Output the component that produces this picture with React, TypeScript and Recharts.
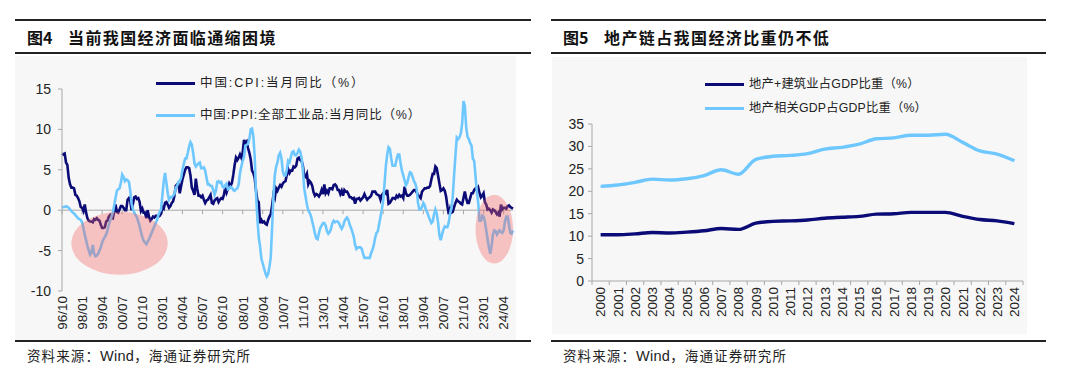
import { LineChart, Line, XAxis, YAxis, ReferenceLine, ReferenceArea } from "recharts";

const FONT = '"Liberation Sans", Arial, "Noto Sans CJK SC", sans-serif';
const CJK = '"Noto Sans CJK SC", "Liberation Sans", sans-serif';

const NAVY = "#0b0b78";
const SKY = "#6ec8ff";
const AXIS = "#a8a8a8";
const PANEL = "#f7f7f7";

// 图4: monthly yoy, 1996/10 - 2024/11
const cpi = [
  7.0, 6.9, 7.0,
  5.9, 5.6, 4.0, 3.2, 2.8, 2.8, 2.7, 1.9, 1.8, 1.5, 1.1, 0.4,
  0.3, -0.1, 0.7, -0.3, -1.0, -1.3, -1.4, -1.4, -1.5, -1.1, -1.2, -1.0,
  -1.2, -1.3, -1.8, -2.2, -2.2, -2.1, -1.4, -1.3, -0.8, -0.6, -0.9, -1.0,
  -0.2, 0.7, -0.2, -0.3, 0.1, 0.5, 0.5, 0.3, 0.0, 0.0, 1.3, 1.5,
  1.2, 0.0, 0.8, 1.6, 1.7, 1.4, 1.5, 1.0, -0.1, 0.2, -0.3, -0.3,
  -1.0, 0.0, -0.8, -1.3, -1.1, -0.8, -0.9, -0.7, -0.7, -0.8, -0.7, -0.4,
  0.4, 0.2, 0.9, 1.0, 0.7, 0.3, 0.5, 0.9, 1.1, 1.8, 3.0, 3.2,
  3.2, 2.1, 3.0, 3.8, 4.4, 5.0, 5.3, 5.3, 5.2, 4.3, 2.8, 2.4,
  1.9, 3.9, 2.7, 1.8, 1.8, 1.6, 1.8, 1.3, 0.9, 1.2, 1.3, 1.6,
  1.9, 0.9, 0.8, 1.2, 1.4, 1.5, 1.0, 1.3, 1.5, 1.4, 1.9, 2.8,
  2.2, 2.7, 3.3, 3.0, 3.4, 4.4, 5.6, 6.5, 6.2, 6.5, 6.9, 6.5,
  7.1, 8.7, 8.3, 8.5, 7.7, 7.1, 6.3, 4.9, 4.6, 4.0, 2.4, 1.2,
  1.0, -1.6, -1.2, -1.5, -1.4, -1.7, -1.8, -1.2, -0.8, -0.5, 0.6, 1.9,
  1.5, 2.7, 2.4, 2.8, 3.1, 2.9, 3.3, 3.5, 3.6, 4.4, 5.1, 4.6,
  4.9, 4.9, 5.4, 5.3, 5.5, 6.4, 6.5, 6.2, 6.1, 5.5, 4.2, 4.1,
  4.5, 3.2, 3.6, 3.4, 3.0, 2.2, 1.8, 2.0, 1.9, 1.7, 2.0, 2.5,
  2.0, 3.2, 2.1, 2.4, 2.1, 2.7, 2.7, 2.6, 3.1, 3.2, 3.0, 2.5,
  2.5, 2.0, 2.4, 1.8, 2.5, 2.3, 2.3, 2.0, 1.6, 1.6, 1.4, 1.5,
  0.8, 1.4, 1.4, 1.5, 1.2, 1.4, 1.6, 2.0, 1.6, 1.3, 1.5, 1.6,
  1.8, 2.3, 2.3, 2.3, 2.0, 1.9, 1.8, 1.3, 1.9, 2.1, 2.3, 2.1,
  2.5, 0.8, 0.9, 1.2, 1.5, 1.5, 1.4, 1.8, 1.6, 1.9, 1.7, 1.8,
  1.5, 2.9, 2.1, 1.8, 1.8, 1.9, 2.1, 2.3, 2.5, 2.5, 2.2, 1.9,
  1.7, 1.5, 2.3, 2.5, 2.7, 2.7, 2.8, 2.8, 3.0, 3.8, 4.5, 4.5,
  5.4, 5.2, 4.3, 3.3, 2.4, 2.5, 2.7, 2.4, 1.7, 0.5, -0.5, 0.2,
  -0.3, -0.2, 0.4, 0.9, 1.3, 1.1, 1.0, 0.8, 0.7, 1.5, 2.3, 1.5,
  0.9, 0.9, 1.5, 2.1, 2.1, 2.5, 2.7, 2.5, 2.8, 2.1, 1.6, 1.8,
  2.1, 1.0, 0.7, 0.1, 0.2, 0.0, -0.3, 0.1, 0.0, -0.2, -0.5, -0.3,
  -0.8, 0.7, 0.1, 0.3, 0.3, 0.2, 0.5, 0.6, 0.4, 0.3, 0.2,
];

const ppi = [
  0.3, 0.4, 0.4,
  0.5, 0.4, 0.3, 0.1, -0.1, -0.3, -0.4, -0.6, -0.8, -1.0, -1.1, -1.2,
  -1.5, -2.2, -3.0, -3.7, -4.4, -5.0, -5.5, -5.2, -4.3, -5.4, -5.7, -5.6,
  -5.4, -5.0, -4.6, -4.0, -3.6, -3.3, -3.0, -2.5, -1.8, -1.3, -0.8, -0.3,
  0.6, 1.5, 2.4, 2.6, 2.7, 3.4, 4.4, 4.1, 3.6, 3.8, 3.7, 3.5,
  2.4, 0.8, 0.1, -0.3, -0.6, -0.9, -1.4, -2.0, -2.7, -3.3, -3.8, -4.0,
  -4.2, -3.9, -3.6, -3.2, -2.8, -2.4, -2.0, -1.6, -1.2, -0.6, -0.2, 0.1,
  1.8, 3.6, 4.6, 3.4, 2.1, 1.3, 1.6, 1.6, 1.8, 2.0, 2.8, 3.0,
  3.5, 3.6, 4.0, 5.0, 5.7, 6.4, 6.4, 7.1, 7.9, 8.4, 8.1, 7.1,
  5.8, 5.4, 5.6, 5.8, 5.9, 5.2, 5.2, 5.3, 4.9, 4.0, 3.2, 3.2,
  3.0, 3.0, 2.5, 1.9, 2.4, 3.5, 3.6, 3.4, 3.5, 2.9, 2.8, 3.1,
  3.3, 2.6, 2.7, 2.9, 2.8, 2.5, 2.4, 2.6, 2.7, 3.2, 4.6, 5.4,
  6.1, 6.6, 8.0, 8.1, 8.2, 8.8, 10.0, 10.1, 9.1, 6.6, 2.0, -1.1,
  -3.3, -4.5, -6.0, -6.6, -7.2, -7.8, -8.2, -7.9, -7.0, -5.8, -2.1, 1.7,
  4.3, 5.4, 5.9, 6.8, 7.1, 6.4, 4.8, 4.3, 4.3, 5.0, 6.1, 5.9,
  6.6, 7.2, 7.3, 6.8, 6.8, 7.1, 7.5, 7.3, 6.5, 5.0, 2.7, 1.7,
  0.7, 0.0, -0.3, -0.7, -1.4, -2.1, -2.9, -3.5, -3.6, -2.8, -2.2, -1.9,
  -1.6, -1.6, -1.9, -2.6, -2.9, -2.7, -2.3, -1.6, -1.3, -1.5, -1.4, -1.4,
  -1.6, -2.0, -2.3, -2.0, -1.4, -1.1, -0.9, -1.2, -1.8, -2.2, -2.7, -3.3,
  -4.3, -4.8, -4.6, -4.6, -4.6, -4.8, -5.4, -5.9, -5.9, -5.9, -5.9, -5.9,
  -5.3, -4.9, -4.3, -3.4, -2.8, -2.6, -1.7, -0.8, 0.1, 1.2, 3.3, 5.5,
  6.9, 7.8, 7.6, 6.4, 5.5, 5.5, 5.5, 6.3, 6.9, 6.9, 5.8, 4.9,
  4.3, 3.7, 3.1, 3.4, 4.1, 4.7, 4.6, 4.1, 3.6, 3.3, 2.7, 0.9,
  0.1, 0.1, 0.4, 0.9, 0.6, 0.0, -0.3, -0.8, -1.2, -1.6, -1.4, -0.5,
  0.1, -0.4, -1.5, -3.1, -3.7, -3.0, -2.4, -2.0, -2.1, -2.1, -1.5, -0.4,
  0.3, 1.7, 4.4, 6.8, 9.0, 8.8, 9.0, 9.5, 10.7, 13.5, 12.9, 10.3,
  9.1, 8.8, 8.3, 8.0, 6.4, 6.1, 4.2, 2.3, 0.9, -1.3, -1.3, -0.7,
  -0.8, -1.4, -2.5, -3.6, -4.6, -5.4, -4.4, -3.0, -2.5, -2.6, -3.0, -2.7,
  -2.5, -2.7, -2.8, -2.5, -1.4, -0.8, -0.8, -1.8, -2.8, -2.9, -2.5,
];

const cpiName = "中国:CPI:当月同比（%）";
const ppiName = "中国:PPI:全部工业品:当月同比（%）";
const leftTicks = [-10, -5, 0, 5, 10, 15];

// month labels like 96/10
const months: string[] = [];
for (let i = 0; i < cpi.length; i++) {
  const t = 1996 * 12 + 9 + i;
  const yy = String(Math.floor(t / 12) % 100).padStart(2, "0");
  const mm = String((t % 12) + 1).padStart(2, "0");
  months.push(`${yy}/${mm}`);
}
const monthData = months.map((m, i) => ({ m, cpi: cpi[i], ppi: ppi[i] }));
const labelMonths = months.filter((_, i) => i % 15 === 0);

// the two pink "deflation" circles
const shades = [
  { x1: "97/05", x2: "03/05", y1: -8.0, y2: -0.2 },
  { x1: "22/07", x2: "24/11", y1: -6.6, y2: 1.9 },
];

// 图5: yearly share of GDP
const years = [
  "2000", "2001", "2002", "2003", "2004", "2005", "2006", "2007", "2008", "2009", "2010", "2011", "2012",
  "2013", "2014", "2015", "2016", "2017", "2018", "2019", "2020", "2021", "2022", "2023", "2024",
];
const estateBuild = [
  10.3, 10.3, 10.5, 10.8, 10.7, 10.9, 11.2, 11.7, 11.5, 12.9, 13.3, 13.4, 13.6,
  14.0, 14.2, 14.4, 14.9, 15.0, 15.3, 15.3, 15.3, 14.4, 13.7, 13.4, 12.8,
];
const estateRelated = [
  21.1, 21.4, 22.0, 22.7, 22.5, 22.8, 23.5, 24.8, 23.8, 27.1, 27.8, 28.0, 28.4,
  29.4, 29.8, 30.5, 31.7, 31.9, 32.5, 32.5, 32.7, 30.9, 29.0, 28.3, 26.8,
];
const buildName = "地产+建筑业占GDP比重（%）";
const relatedName = "地产相关GDP占GDP比重（%）";
const rightTicks = [0, 5, 10, 15, 20, 25, 30, 35];

const yearData = years.map((year, i) => ({ i, year, build: estateBuild[i], related: estateRelated[i] }));
const yearTicks: number[] = [];
for (let i = 0; i <= years.length; i++) {
  yearTicks.push(i - 0.5);
  if (i < years.length) yearTicks.push(i);
}

const LEFT_W = 501;
const LEFT_H = 285;
const leftMargin = { top: 33, right: 3, bottom: 2, left: 7 };

function MonthTick(props: any) {
  const { x, y, payload } = props;
  return (
    <text
      x={x}
      y={y}
      transform={`rotate(-90 ${x} ${y})`}
      textAnchor="end"
      dy="0.36em"
      fontSize={13.5}
      fill="#222"
      fontFamily={FONT}
    >
      {payload.value}
    </text>
  );
}

function YearTick(props: any) {
  const { x, y, payload } = props;
  const v = payload.value;
  if (!Number.isInteger(v)) {
    return <line x1={x} x2={x} y1={y} y2={y + 4} stroke={AXIS} />;
  }
  return (
    <text
      x={x}
      y={y + 6}
      transform={`rotate(-90 ${x} ${y + 6})`}
      textAnchor="end"
      dy="0.36em"
      fontSize={13.5}
      fill="#222"
      fontFamily={FONT}
    >
      {years[v]}
    </text>
  );
}

function Ellipse(props: any) {
  const { x, y, width, height } = props;
  if (width == null || height == null) return null;
  return (
    <ellipse
      cx={x + width / 2}
      cy={y + height / 2}
      rx={Math.abs(width) / 2}
      ry={Math.abs(height) / 2}
      fill="#f26060"
      fillOpacity={0.36}
    />
  );
}

function StackLegend({ items, left, top, gap, fontSize }: any) {
  return (
    <div style={{ position: "absolute", left, top, fontFamily: FONT, fontSize, color: "#222" }}>
      {items.map((it: any, k: number) => (
        <div key={it.name} style={{ position: "absolute", top: k * gap, left: 0, height: 16, display: "flex", alignItems: "center", whiteSpace: "nowrap" }}>
          <span style={{ display: "inline-block", width: 39, height: 3, background: it.color, marginRight: 5 }} />
          <span style={{ letterSpacing: it.spacing, lineHeight: "16px" }}>{it.name}</span>
        </div>
      ))}
    </div>
  );
}

function TitleBar({ left, width, num, text }: any) {
  return (
    <div
      style={{
        position: "absolute",
        left,
        top: 19,
        width,
        height: 31,
        borderTop: "2px solid #222",
        borderBottom: "2px solid #222",
        fontFamily: CJK,
        fontWeight: 700,
        fontSize: 16,
        color: "#111",
        display: "flex",
        alignItems: "center",
        whiteSpace: "nowrap",
      }}
    >
      <span style={{ marginLeft: 12, width: 41 }}>{num}</span>
      <span style={{ letterSpacing: 1.4 }}>{text}</span>
    </div>
  );
}

function Source({ left, width }: any) {
  return (
    <div
      style={{
        position: "absolute",
        left,
        top: 340,
        width,
        height: 28,
        borderTop: "2px solid #222",
        fontFamily: CJK,
        fontSize: 13.5,
        letterSpacing: 1.1,
        color: "#222",
        whiteSpace: "nowrap",
      }}
    >
      <span style={{ position: "absolute", left: 12, top: 3 }}>
        资料来源：<span style={{ fontFamily: FONT, fontSize: 14.5, letterSpacing: 0.3 }}>Wind</span>，海通证券研究所
      </span>
    </div>
  );
}

export default function App() {
  return (
    <div style={{ position: "absolute", left: 0, top: 0, width: 1080, height: 368, background: "#fff", overflow: "hidden" }}>
      <TitleBar left={15} width={516} num="图4" text="当前我国经济面临通缩困境" />
      <TitleBar left={551} width={495} num="图5" text="地产链占我国经济比重仍不低" />

      {/* left panel */}
      <div style={{ position: "absolute", left: 15, top: 56, width: LEFT_W, height: LEFT_H, background: PANEL }}>
        <LineChart width={LEFT_W} height={LEFT_H} data={monthData} margin={leftMargin}>
          <XAxis
            dataKey="m"
            interval={14}
            axisLine={false}
            tickLine={false}
            tickSize={0}
            tickMargin={5}
            height={48}
            tick={<MonthTick />}
          />
          <YAxis
            domain={[-10, 15]}
            ticks={leftTicks}
            width={40}
            axisLine={{ stroke: AXIS }}
            tickLine={{ stroke: AXIS }}
            tickSize={4}
            tickMargin={7}
            tick={{ fontSize: 14, fill: "#222", fontFamily: FONT }}
          />
          <ReferenceLine y={0} stroke={AXIS} />
          {labelMonths.map((m) => (
            <ReferenceLine
              key={m}
              segment={[
                { x: m, y: 0 },
                { x: m, y: -0.5 },
              ]}
              stroke={AXIS}
            />
          ))}
          <Line dataKey="cpi" name={cpiName} stroke={NAVY} strokeWidth={2.6} dot={false} isAnimationActive={false} />
          <Line dataKey="ppi" name={ppiName} stroke={SKY} strokeWidth={2.6} dot={false} isAnimationActive={false} />
        </LineChart>

        {/* same layout again on top, only for the translucent circles */}
        <div style={{ position: "absolute", left: 0, top: 0, pointerEvents: "none" }}>
          <LineChart width={LEFT_W} height={LEFT_H} data={monthData} margin={leftMargin}>
            <XAxis dataKey="m" axisLine={false} tickLine={false} tick={false} height={48} />
            <YAxis domain={[-10, 15]} ticks={leftTicks} width={40} axisLine={false} tickLine={false} tick={false} />
            <Line dataKey="cpi" stroke="transparent" strokeWidth={0} dot={false} activeDot={false} isAnimationActive={false} />
            {shades.map((s) => (
              <ReferenceArea
                key={s.x1}
                x1={s.x1}
                x2={s.x2}
                y1={s.y1}
                y2={s.y2}
                fill="#f26060"
                fillOpacity={0.36}
                shape={(p: any) => <Ellipse {...p} />}
                ifOverflow="visible"
              />
            ))}
          </LineChart>
        </div>

        <StackLegend
          left={141}
          top={19}
          gap={32}
          fontSize={12.5}
          items={[
            { name: cpiName, color: NAVY, spacing: 1.9 },
            { name: ppiName, color: SKY, spacing: 0.85 },
          ]}
        />
      </div>

      {/* right panel */}
      <div style={{ position: "absolute", left: 552, top: 57, width: 475, height: 277, background: PANEL }}>
        <LineChart width={475} height={277} data={yearData} margin={{ top: 67, right: 4, bottom: 2, left: 6 }}>
          <XAxis
            dataKey="i"
            type="number"
            domain={[-0.5, years.length - 0.5]}
            ticks={yearTicks}
            interval={0}
            axisLine={{ stroke: AXIS }}
            tickLine={false}
            tickSize={0}
            tickMargin={0}
            height={51}
            tick={<YearTick />}
          />
          <YAxis
            domain={[0, 35]}
            ticks={rightTicks}
            width={34}
            axisLine={{ stroke: AXIS }}
            tickLine={{ stroke: AXIS }}
            tickSize={4}
            tickMargin={4}
            tick={{ fontSize: 14, fill: "#222", fontFamily: FONT }}
          />
          <Line type="monotone" dataKey="build" name={buildName} stroke={NAVY} strokeWidth={3.4} dot={false} isAnimationActive={false} />
          <Line type="monotone" dataKey="related" name={relatedName} stroke={SKY} strokeWidth={3.4} dot={false} isAnimationActive={false} />
        </LineChart>
        <StackLegend
          left={153}
          top={19}
          gap={24}
          fontSize={12.3}
          items={[
            { name: buildName, color: NAVY, spacing: 0.2 },
            { name: relatedName, color: SKY, spacing: 0.2 },
          ]}
        />
      </div>

      <Source left={15} width={516} />
      <Source left={551} width={495} />
    </div>
  );
}
